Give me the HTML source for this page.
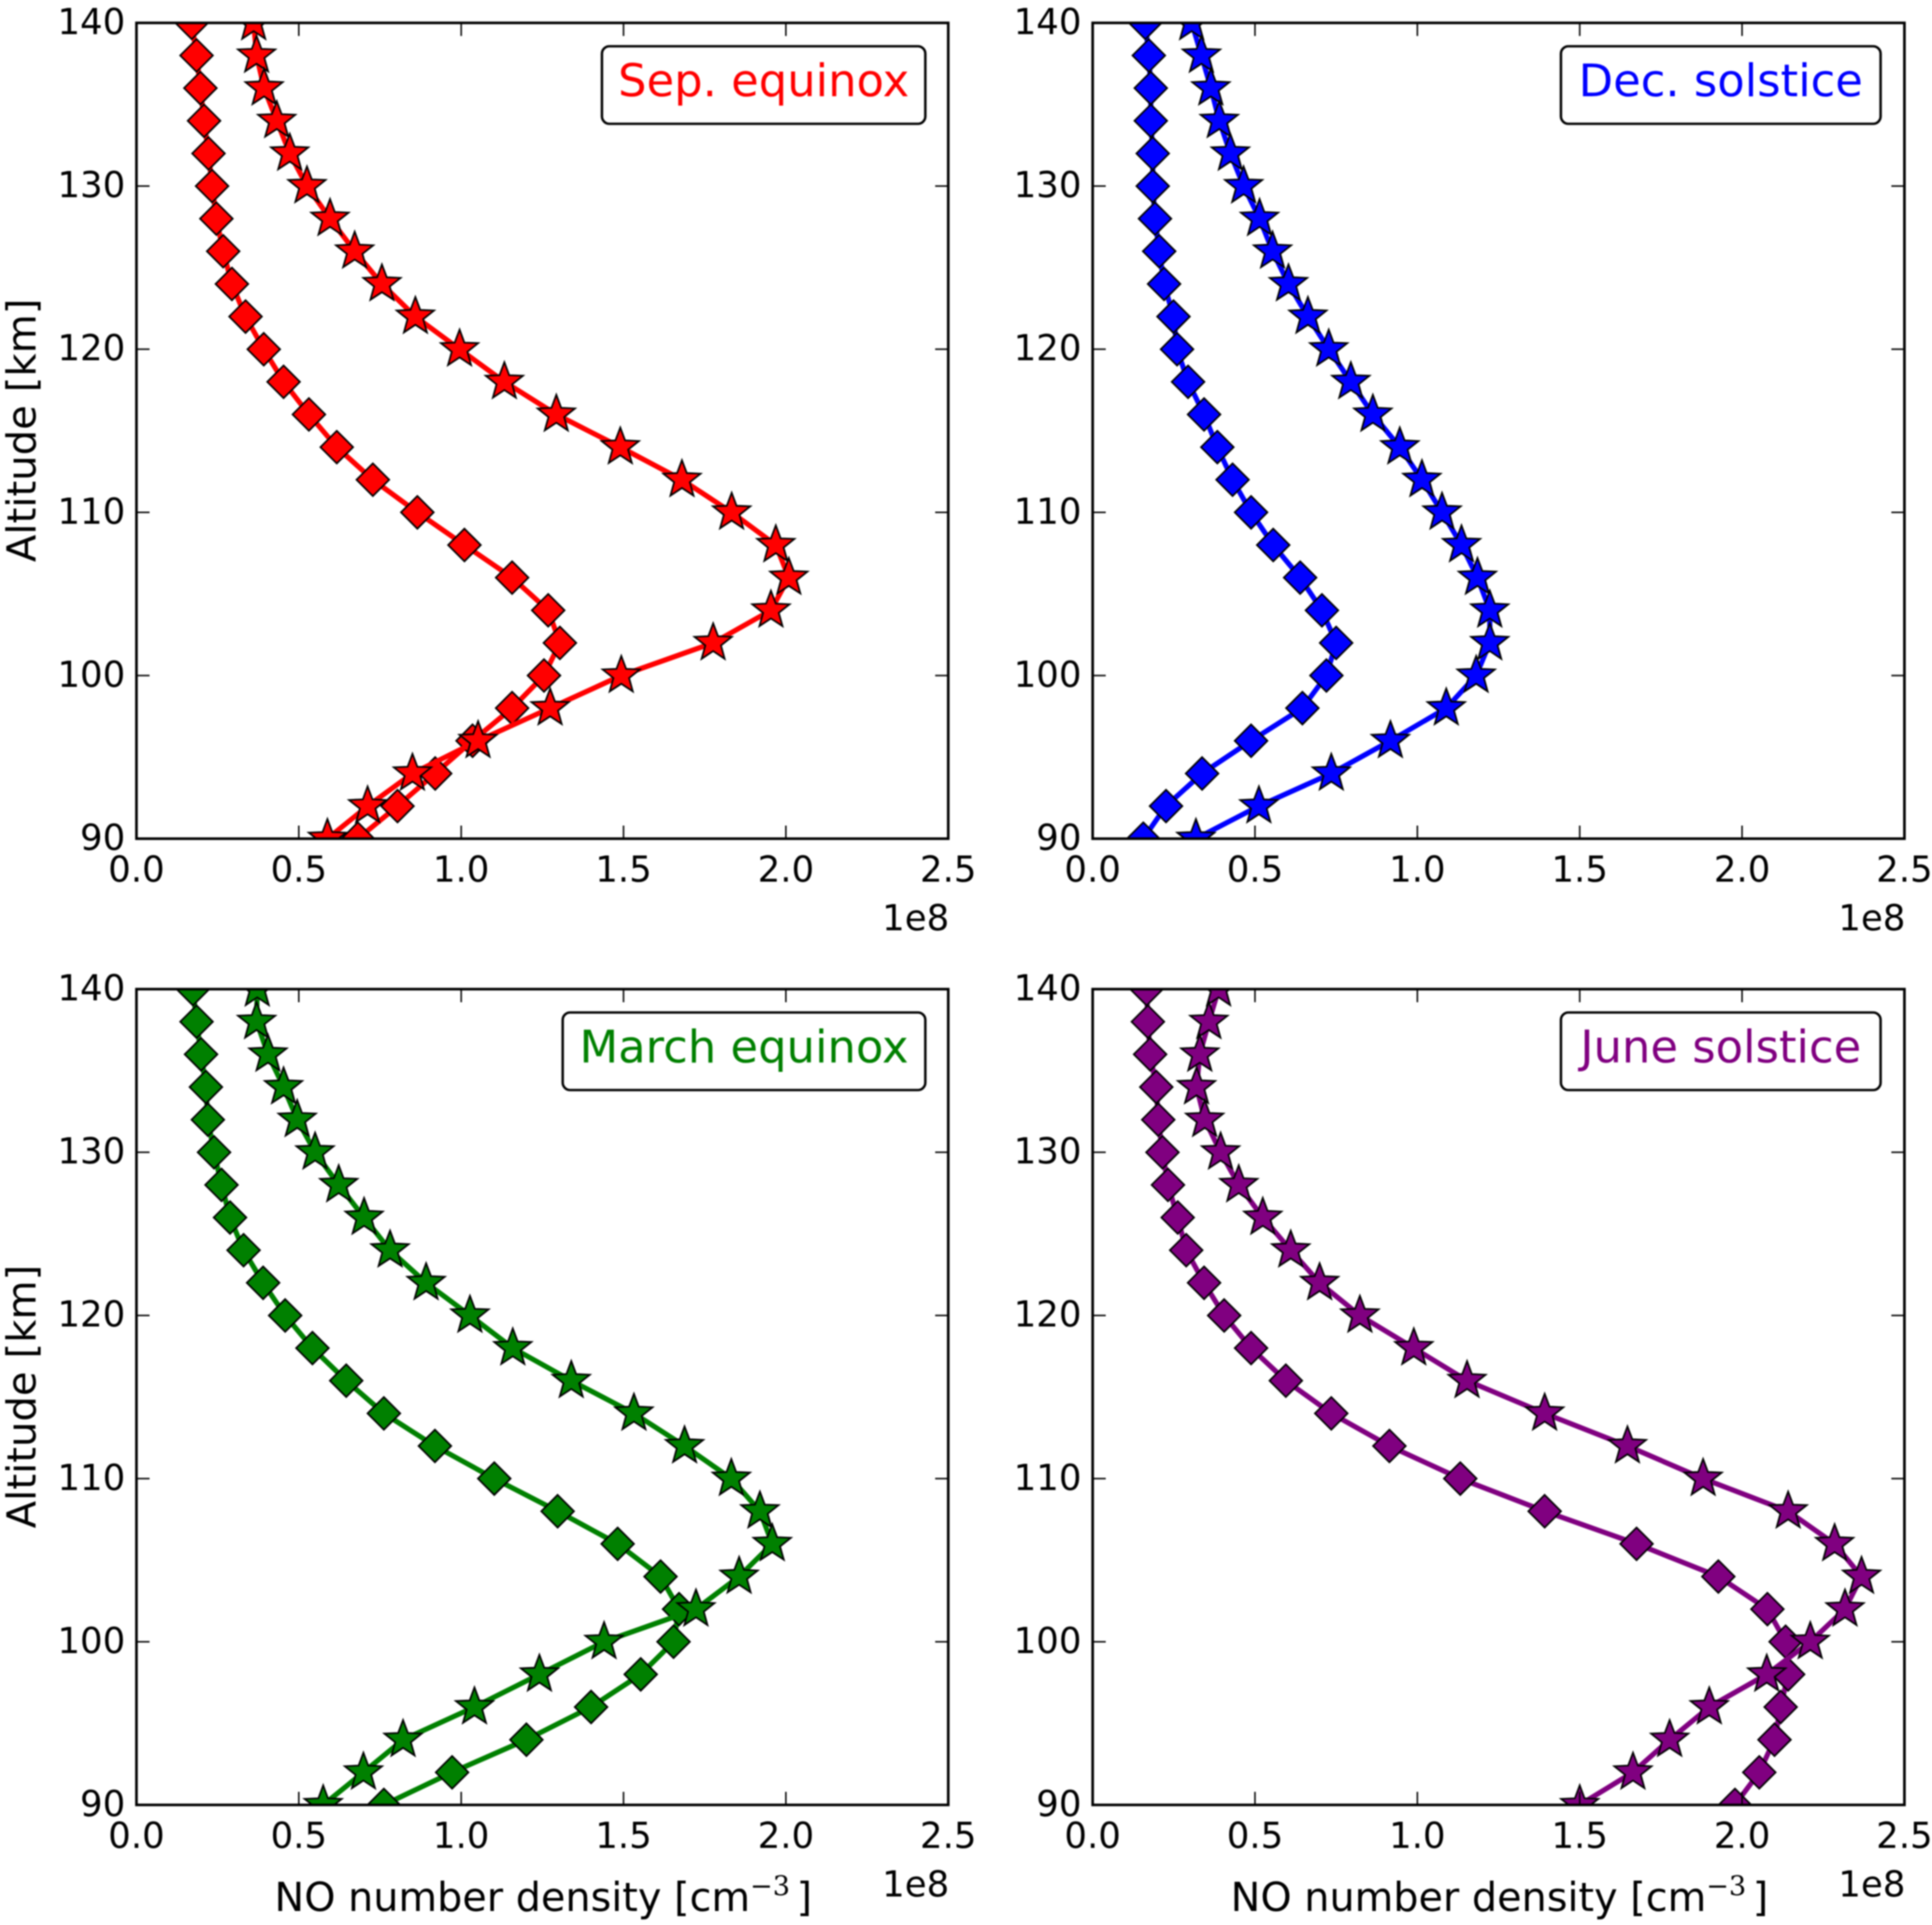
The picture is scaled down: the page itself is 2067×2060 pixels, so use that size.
<!DOCTYPE html>
<html>
<head>
<meta charset="utf-8">
<title>NO number density profiles</title>
<style>
html,body{margin:0;padding:0;background:#fff;}
svg{display:block;filter:blur(0.7px);}
text{font-family:"DejaVu Sans","Liberation Sans",sans-serif;fill:#000;}
</style>
</head>
<body>
<svg id="fig" xmlns="http://www.w3.org/2000/svg" width="2067" height="2060" viewBox="0 0 2067 2060">
<rect width="2067" height="2060" fill="#fff"/>
</svg>
<script>
const altitudes = [140,138,136,134,132,130,128,126,124,122,120,118,116,114,112,110,108,106,104,102,100,98,96,94,92,90];
const xTickLabels = ["0.0","0.5","1.0","1.5","2.0","2.5"];
const yTickLabels = ["90","100","110","120","130","140"];

const sepDiamond = [.17,.185,.197,.208,.222,.233,.246,.267,.294,.336,.392,.453,.531,.617,.728,.865,1.01,1.157,1.268,1.304,1.255,1.157,1.035,.92,.804,.682];
const sepStar = [.361,.37,.393,.432,.472,.525,.596,.672,.756,.859,.995,1.133,1.293,1.49,1.68,1.833,1.969,2.009,1.954,1.776,1.493,1.274,1.052,.85,.712,.588];
const decDiamond = [.162,.173,.179,.179,.185,.185,.192,.205,.22,.249,.26,.294,.343,.384,.431,.488,.556,.639,.706,.75,.72,.646,.488,.337,.226,.156];
const decStar = [.305,.335,.364,.39,.424,.465,.514,.554,.603,.663,.727,.795,.863,.946,1.014,1.076,1.136,1.185,1.223,1.223,1.181,1.089,.917,.735,.512,.318];
const marDiamond = [.174,.185,.199,.214,.22,.239,.262,.288,.33,.39,.458,.542,.646,.762,.919,1.102,1.297,1.482,1.614,1.671,1.654,1.553,1.4,1.201,.972,.762];
const marStar = [.372,.37,.405,.453,.495,.55,.623,.701,.781,.892,1.027,1.159,1.339,1.532,1.688,1.832,1.92,1.958,1.856,1.723,1.44,1.241,1.041,.821,.699,.575];
const junDiamond = [.166,.17,.177,.196,.202,.215,.232,.262,.288,.343,.405,.488,.595,.735,.914,1.132,1.392,1.675,1.927,2.078,2.134,2.142,2.119,2.1,2.053,1.978];
const junStar = [.388,.358,.33,.32,.345,.394,.45,.524,.61,.699,.823,.989,1.153,1.392,1.647,1.88,2.142,2.285,2.368,2.317,2.21,2.076,1.899,1.777,1.664,1.5];

const NS = "http://www.w3.org/2000/svg";
const fig = document.getElementById("fig");
const W = 868.5, H = 873;
const xMax = 2.5, yMin = 90, yMax = 140;

function mk(tag, attrs, parent){
  const e = document.createElementNS(NS, tag);
  for (const k in attrs) e.setAttribute(k, attrs[k]);
  (parent || fig).appendChild(e);
  return e;
}
function xScale(p, v){ return p.left + (v / xMax) * W; }
function yScale(p, v){ return p.top + (yMax - v) / (yMax - yMin) * H; }

function starPoints(cx, cy, R){
  const r = R * 0.42, pts = [];
  for (let i = 0; i < 10; i++){
    const a = -Math.PI / 2 + i * Math.PI / 5, q = i % 2 ? r : R;
    pts.push((cx + q * Math.cos(a)).toFixed(1) + "," + (cy + q * Math.sin(a)).toFixed(1));
  }
  return pts.join(" ");
}
function diamondPoints(cx, cy, R){
  return [[cx, cy - R], [cx + R, cy], [cx, cy + R], [cx - R, cy]].map(a => a[0].toFixed(1) + "," + a[1].toFixed(1)).join(" ");
}

function drawSeries(p, g, values, kind){
  const pts = altitudes.map((a, i) => xScale(p, values[i]).toFixed(1) + "," + yScale(p, a).toFixed(1)).join(" ");
  const line = mk("polyline", {points: pts, fill: "none", stroke: p.color, "stroke-width": 5.5, "stroke-linejoin": "round"}, g);
  
  
  altitudes.forEach((a, i) => {
    const cx = xScale(p, values[i]), cy = yScale(p, a);
    const shape = kind === "star" ? starPoints(cx, cy, 21) : diamondPoints(cx, cy, 17.5);
    const m = mk("polygon", {points: shape, fill: p.color, stroke: "#000", "stroke-width": 1.8, "stroke-linejoin": "miter"}, g);
    
    
  });
}

function drawPanel(p, idx){
  const group = mk("g", {});
  
  

  const clip = mk("clipPath", {id: "clip" + idx}, group);
  mk("rect", {x: p.left, y: p.top, width: W, height: H}, clip);
  const plot = mk("g", {"clip-path": "url(#clip" + idx + ")"}, group);
  
  
  drawSeries(p, plot, p.diamond, "diamond");
  drawSeries(p, plot, p.star, "star");

  // ticks and tick labels
  xTickLabels.forEach(lbl => {
    const x = xScale(p, parseFloat(lbl));
    const t1 = mk("line", {x1: x, x2: x, y1: p.top + H, y2: p.top + H - 14, stroke: "#000", "stroke-width": 1.6}, group);
    
    
    const t2 = mk("line", {x1: x, x2: x, y1: p.top, y2: p.top + 14, stroke: "#000", "stroke-width": 1.6}, group);
    
    
    const t = mk("text", {x: x, y: p.top + H + 46, "font-size": 38, "text-anchor": "middle"}, group);
    
    
    t.textContent = lbl;
  });
  yTickLabels.forEach(lbl => {
    const y = yScale(p, parseFloat(lbl));
    const t1 = mk("line", {x1: p.left, x2: p.left + 14, y1: y, y2: y, stroke: "#000", "stroke-width": 1.6}, group);
    
    
    const t2 = mk("line", {x1: p.left + W, x2: p.left + W - 14, y1: y, y2: y, stroke: "#000", "stroke-width": 1.6}, group);
    
    
    const t = mk("text", {x: p.left - 12, y: y + 12, "font-size": 38, "text-anchor": "end"}, group);
    
    
    t.textContent = lbl;
  });

  // frame
  const frame = mk("rect", {x: p.left, y: p.top, width: W, height: H, fill: "none", stroke: "#000", "stroke-width": 2.8}, group);
  
  

  // offset text
  const off = mk("text", {x: p.left + W + 1, y: p.top + H + 98, "font-size": 38, "text-anchor": "end"}, group);
  
  
  off.textContent = "1e8";

  // legend label box
  const box = mk("rect", {x: p.boxX, y: p.top + 25, width: p.boxW, height: 83, rx: 8, ry: 8, fill: "#fff", stroke: "#000", "stroke-width": 2.6}, group);
  
  
  const lt = mk("text", {x: p.boxX + p.boxW / 2, y: p.top + 78.5, "font-size": 48, "text-anchor": "middle", style: "fill:" + p.color}, group);
  
  
  lt.textContent = p.label;

  // y label (left column only)
  if (p.yLabel){
    const cy = p.top + 436;
    const yl = mk("text", {x: 0, y: 0, "font-size": 43, "text-anchor": "middle", transform: "translate(38," + cy + ") rotate(-90)"}, group);
    
    
    yl.textContent = "Altitude [km]";
  }
  // x label (bottom row only)
  if (p.xLabel){
    const xl = mk("text", {x: p.left + W / 2 + 1, y: p.top + H + 113.5, "font-size": 42.5, "text-anchor": "middle"}, group);
    
    
    xl.appendChild(document.createTextNode("NO number density [cm"));
    const sup = mk("tspan", {dy: -17, "font-size": 29, style: "font-family:'DejaVu Serif','Liberation Serif',serif"}, xl);
    sup.textContent = "\u22123";
    const end = mk("tspan", {dy: 17, dx: 7}, xl);
    end.textContent = "]";
  }
}

const panels = [
  {key: "sep-equinox", label: "Sep. equinox", color: "#ff0000", diamond: sepDiamond, star: sepStar, left: 146, top: 24.5, boxX: 644, boxW: 346, yLabel: true, xLabel: false},
  {key: "dec-solstice", label: "Dec. solstice", color: "#0000ff", diamond: decDiamond, star: decStar, left: 1169, top: 24.5, boxX: 1670, boxW: 342, yLabel: false, xLabel: false},
  {key: "march-equinox", label: "March equinox", color: "#008000", diamond: marDiamond, star: marStar, left: 146, top: 1058.5, boxX: 602, boxW: 388, yLabel: true, xLabel: true},
  {key: "june-solstice", label: "June solstice", color: "#800080", diamond: junDiamond, star: junStar, left: 1169, top: 1058.5, boxX: 1670, boxW: 342, yLabel: false, xLabel: true}
];
panels.forEach(drawPanel);
</script>
</body>
</html>
